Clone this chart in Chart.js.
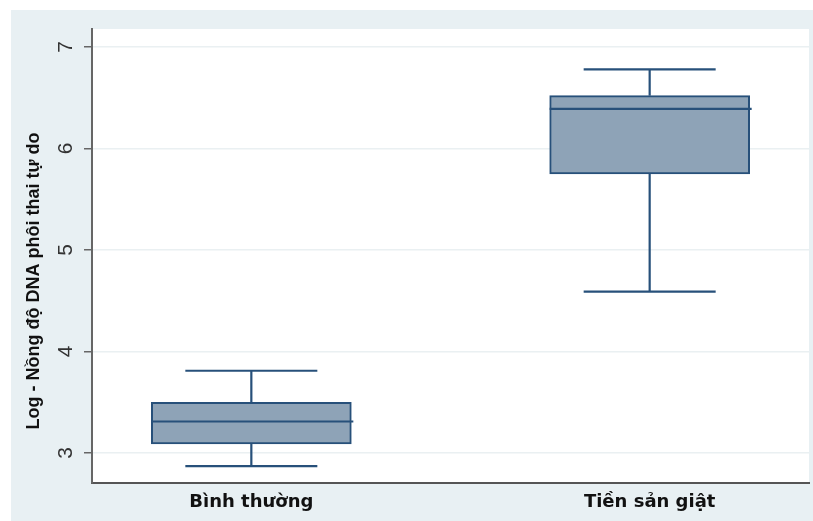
<!DOCTYPE html>
<html>
<head>
<meta charset="utf-8">
<script src="https://cdn.jsdelivr.net/npm/chart.js@4.4.1/dist/chart.umd.min.js"></script>
<style>
  html, body { margin: 0; padding: 0; background: #fff; }
  #panel { position: absolute; left: 11px; top: 10px; width: 802px; height: 511px; background: #e8f0f3; }
</style>
</head>
<body>
<div id="panel"><canvas id="boxplot" width="802" height="511"></canvas></div>
<script>
// box plot summary per group
const groups = ['Bình thường', 'Tiền sản giật'];
const whiskerLow = [2.87, 4.59];
const quartile1 = [3.09, 5.75];
const medians = [3.31, 6.39];
const quartile3 = [3.50, 6.52];
const whiskerHigh = [3.81, 6.78];
const yTicks = [3, 4, 5, 6, 7];
const yTitle = 'Log - Nồng độ DNA phôi thai tự do';

const navy = '#27507a';
const boxFill = '#8ea3b7';
const axisGray = '#666';

const boxParts = {
  id: 'boxParts',
  beforeDraw(chart) {
    const { ctx, chartArea: a } = chart;
    ctx.save();
    ctx.fillStyle = '#fff';
    ctx.fillRect(a.left, a.top, a.right - a.left, a.bottom - a.top);
    ctx.restore();
  },
  afterDatasetsDraw(chart) {
    const { ctx, scales: { x, y } } = chart;
    const capHalf = 66, boxHalf = 100;
    const seg = (x0, y0, x1, y1) => {
      ctx.beginPath(); ctx.moveTo(x0, y0); ctx.lineTo(x1, y1); ctx.stroke();
    };
    ctx.save();
    ctx.strokeStyle = navy;
    ctx.lineWidth = 2.2;
    groups.forEach((g, i) => {
      const cx = x.getPixelForValue(i + 1);
      const yHi = y.getPixelForValue(whiskerHigh[i]);
      const yLo = y.getPixelForValue(whiskerLow[i]);
      seg(cx, y.getPixelForValue(quartile3[i]), cx, yHi);
      seg(cx, y.getPixelForValue(quartile1[i]), cx, yLo);
      seg(cx - capHalf, yHi, cx + capHalf, yHi);
      seg(cx - capHalf, yLo, cx + capHalf, yLo);
      const ym = y.getPixelForValue(medians[i]);
      seg(cx - boxHalf, ym, cx + boxHalf + 2, ym);
    });
    ctx.restore();
  },
  afterDraw(chart) {
    const { ctx, scales: { y } } = chart;
    ctx.save();
    ctx.fillStyle = '#333';
    ctx.font = '21px "Liberation Sans", Arial, sans-serif';
    ctx.textAlign = 'center';
    ctx.textBaseline = 'middle';
    yTicks.forEach(v => {
      ctx.save();
      ctx.translate(55, y.getPixelForValue(v));
      ctx.rotate(-Math.PI / 2);
      ctx.fillText(String(v), 0, 0);
      ctx.restore();
    });
    // axis title, reading bottom to top
    ctx.fillStyle = '#111';
    ctx.font = 'bold 18px "Liberation Sans", Arial, sans-serif';
    ctx.translate(23, 271);
    ctx.rotate(-Math.PI / 2);
    ctx.fillText(yTitle, 0, 0);
    ctx.restore();
  }
};

new Chart(document.getElementById('boxplot'), {
  type: 'bar',
  data: {
    datasets: [{
      data: groups.map((g, i) => ({ x: i + 1, y: [quartile1[i], quartile3[i]] })),
      backgroundColor: boxFill,
      borderColor: navy,
      borderWidth: 2,
      borderSkipped: false,
      barThickness: 200
    }]
  },
  options: {
    responsive: false,
    animation: false,
    layout: { padding: { left: 10, top: 19, right: 4, bottom: 0 } },
    plugins: { legend: { display: false }, tooltip: { enabled: false } },
    scales: {
      x: {
        type: 'linear',
        offset: false,
        min: 0.6,
        max: 2.4,
        afterBuildTicks: s => { s.ticks = groups.map((g, i) => ({ value: i + 1 })); },
        afterFit: s => { s.height = 38; },
        grid: { display: false, drawTicks: false },
        border: { display: true, color: '#555', width: 2 },
        ticks: {
          padding: 9,
          color: '#111',
          font: { family: '"DejaVu Sans", sans-serif', weight: 'bold', size: 18 },
          callback: v => groups[v - 1]
        }
      },
      y: {
        min: 2.704,
        max: 7.177,
        afterBuildTicks: s => { s.ticks = yTicks.map(v => ({ value: v })); },
        afterFit: s => { s.width = 71; },
        grid: { color: '#eaf0f2', lineWidth: 1.5, tickColor: axisGray, tickLength: 8 },
        border: { display: true, color: axisGray, width: 2 },
        ticks: { display: false }
      }
    }
  },
  plugins: [boxParts]
});
</script>
</body>
</html>
